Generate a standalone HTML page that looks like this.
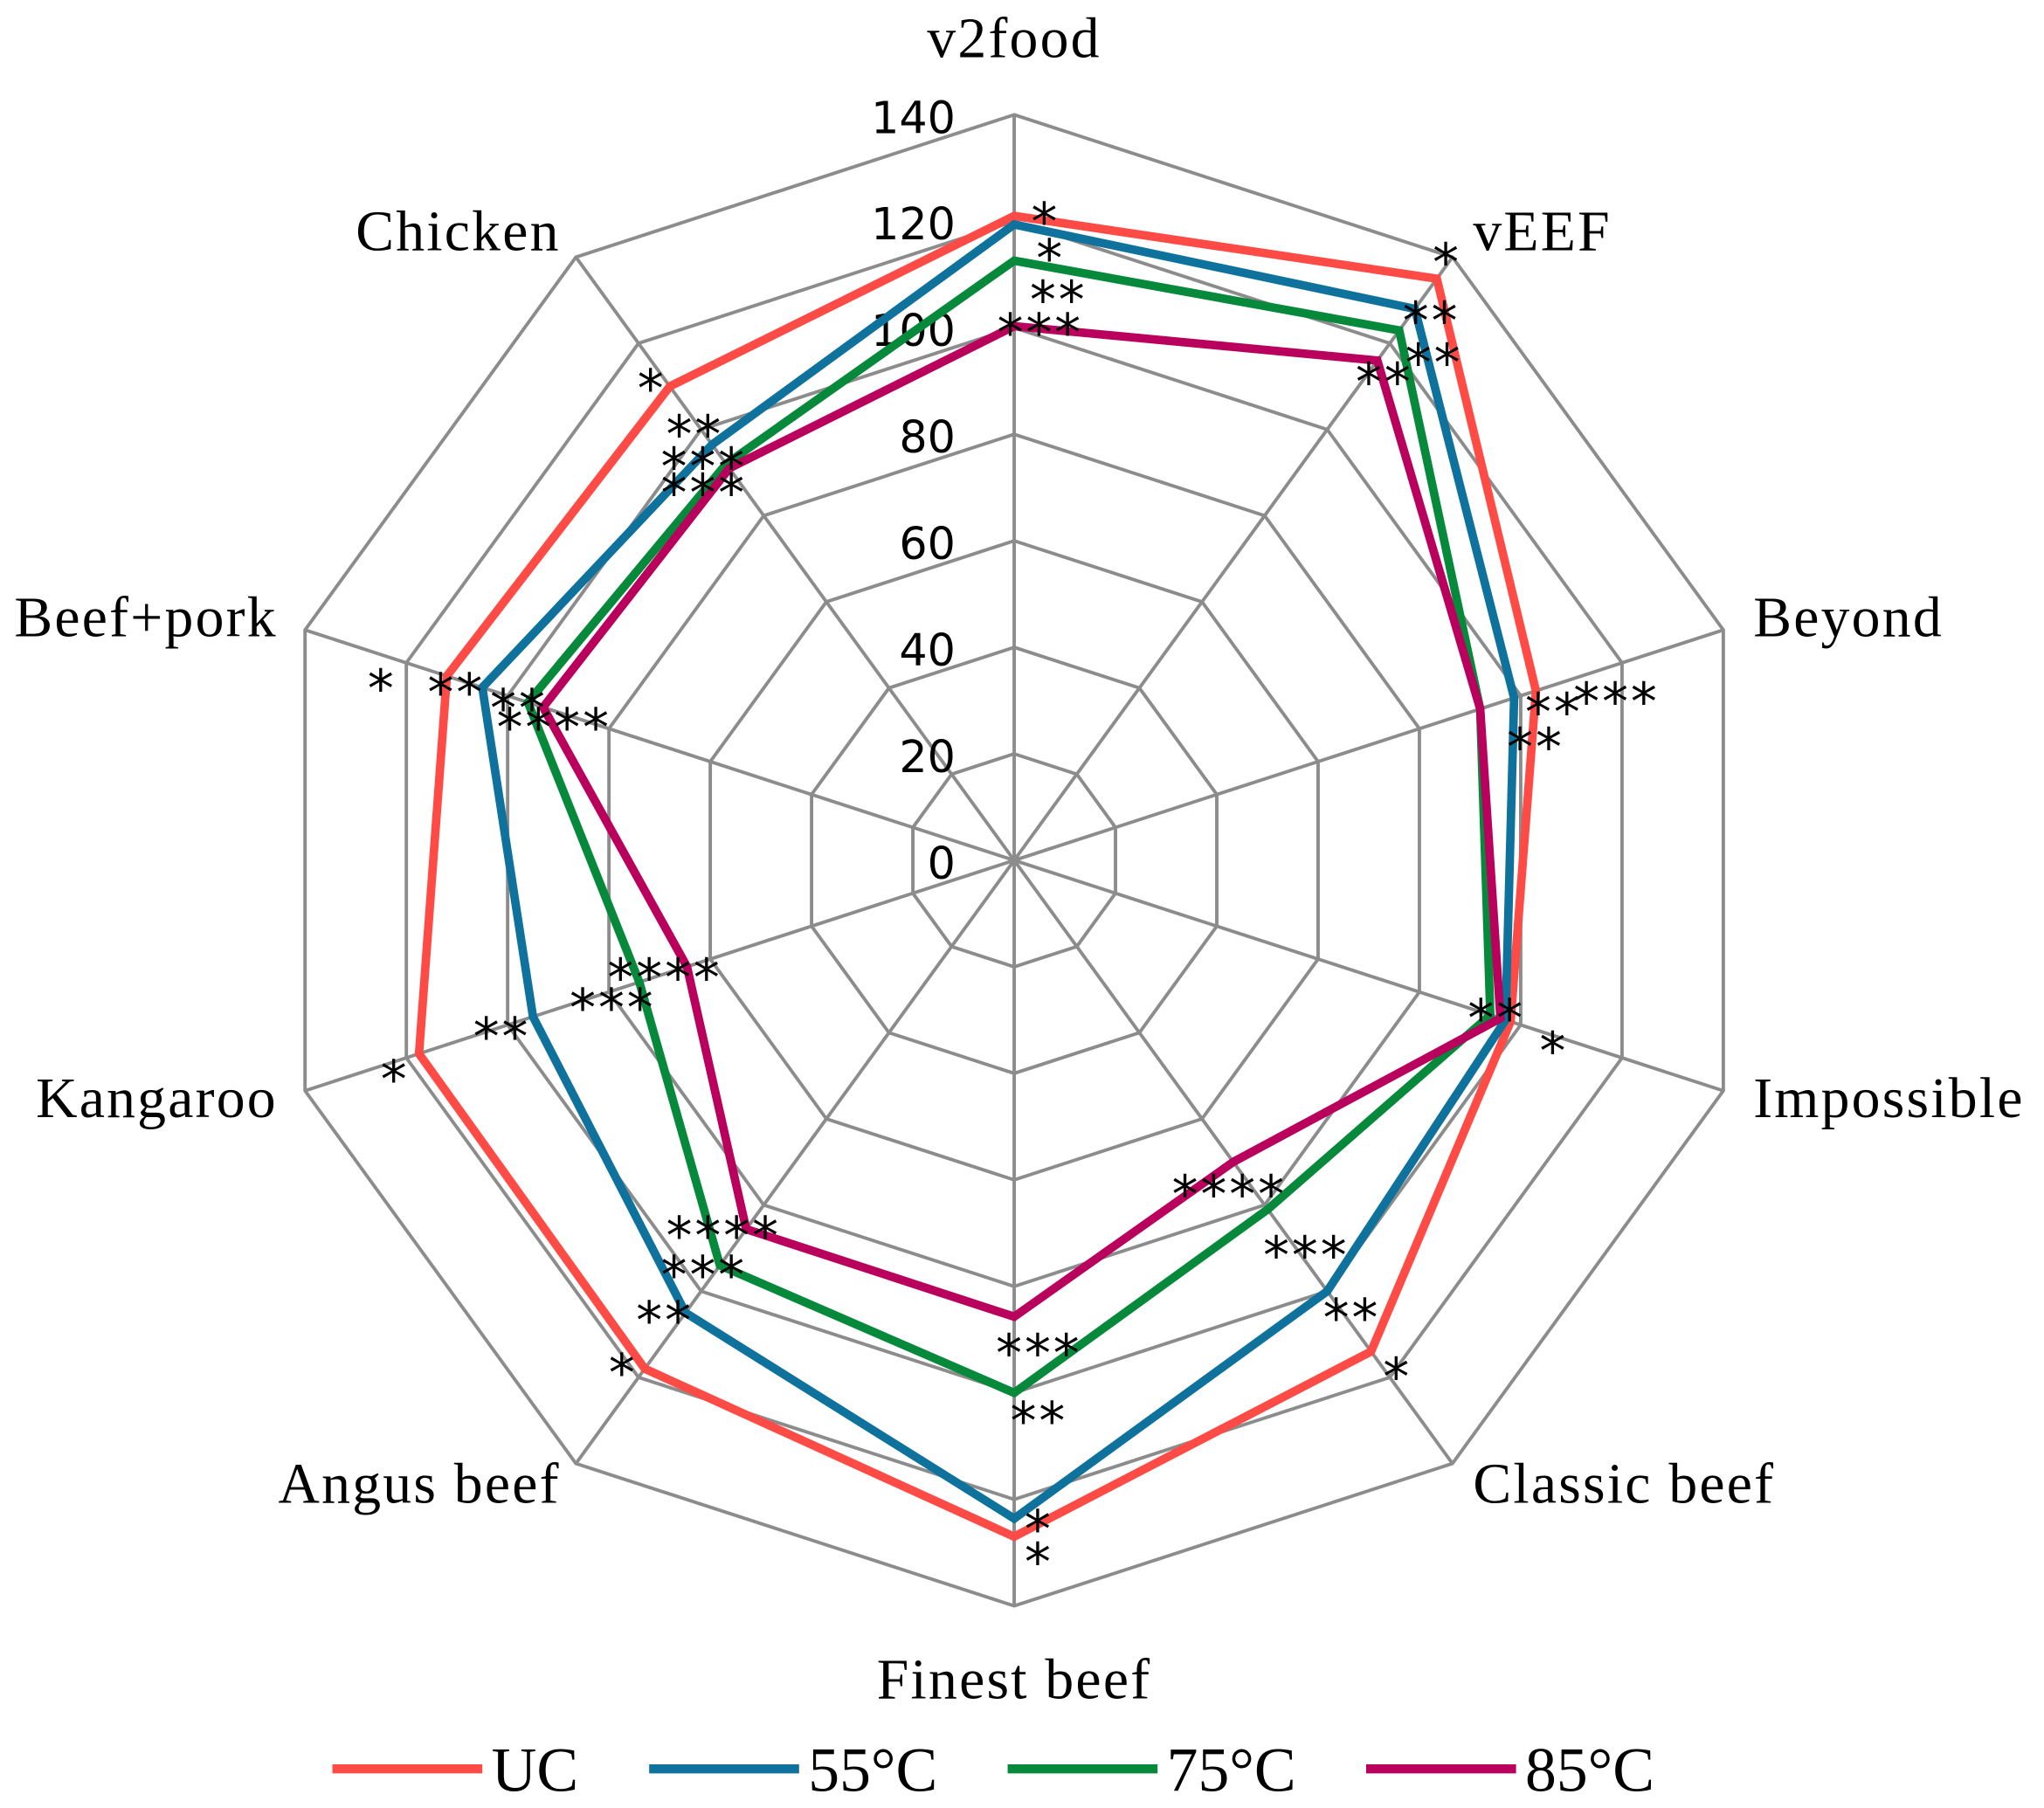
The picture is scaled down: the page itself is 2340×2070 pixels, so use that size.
<!DOCTYPE html>
<html><head><meta charset="utf-8"><style>
html,body{margin:0;padding:0;background:#fff;}
svg{display:block;}
</style></head><body>
<svg id="chart" width="2340" height="2070" viewBox="0 0 1568 1387" xmlns="http://www.w3.org/2000/svg">
<g id="grid"></g>
<g id="ticks"></g>
<g id="cats"></g>
<g id="series"></g>
<g id="stars"></g>
<g id="legend"></g>
</svg>
<script>
const categories=["v2food","vEEF","Beyond","Impossible","Classic beef","Finest beef","Angus beef","Kangaroo","Beef+pork","Chicken"];
const seriesNames=["UC","55°C","75°C","85°C"];
const seriesColors=["#FF4B45","#0E729C","#07893B","#B8005C"];
const valsUC=[121,135,103,98,114,127,118,117.5,112,110];
const vals55=[119.4,128,98.7,97,100,123.6,105,95,105,96.5];
const vals75=[112.6,123,92,94,81,100,94,74,96,92];
const vals85=[100.3,116,92,96,70,85.7,85.6,64.6,93,91];
const tickValues=[0,20,40,60,80,100,120,140];
const seriesVals=[valsUC,vals55,vals75,vals85];
const NS="http://www.w3.org/2000/svg";
const cx=778,cy=660,R=572,maxV=140;
function rad(v){return v/maxV*R;}
function pt(i,v){const a=i*2*Math.PI/categories.length;return [cx+rad(v)*Math.sin(a),cy-rad(v)*Math.cos(a)];}
function mk(tag,attrs,parent){const e=document.createElementNS(NS,tag);for(const k in attrs)e.setAttribute(k,attrs[k]);parent.appendChild(e);return e;}
const grid=document.getElementById('grid');
tickValues.forEach(t=>{if(t===0)return;
 const p=mk('polygon',{points:categories.map((c,i)=>pt(i,t).join(',')).join(' '),fill:'none',stroke:'#8c8c8c','stroke-width':2.6},grid);
 
 });
categories.forEach((c,i)=>{const [x,y]=pt(i,maxV);
 const l=mk('line',{x1:cx,y1:cy,x2:x,y2:y,stroke:'#8c8c8c','stroke-width':2.6},grid);
 
 });
const ticks=document.getElementById('ticks');
tickValues.forEach(t=>{const y=cy-rad(t);
 const e=mk('text',{x:733,y:y+14,'text-anchor':'end','font-family':'"DejaVu Sans","Liberation Sans",sans-serif','font-size':34,fill:'#000'},ticks);
 e.textContent=t;
 
 });
const catPos=[[778,44,'middle'],[1130,192,'start'],[1345,488,'start'],[1345,857,'start'],[1130,1153,'start'],[778,1303,'middle'],[430,1153,'end'],[213,857,'end'],[213,488,'end'],[430,192,'end']];
const cats=document.getElementById('cats');
categories.forEach((c,i)=>{const p=catPos[i];
 const e=mk('text',{x:p[0],y:p[1],'text-anchor':p[2],'font-family':'"Liberation Serif",serif','font-size':44,'letter-spacing':1.5,fill:'#000'},cats);
 e.textContent=c;
 
 });
const sg=document.getElementById('series');
seriesVals.forEach((vals,s)=>{
 const p=mk('polygon',{points:vals.map((v,i)=>pt(i,v).join(',')).join(' '),fill:'none',stroke:seriesColors[s],'stroke-width':6.5,'stroke-linejoin':'miter'},sg);
 
 });
const starList=[[802,162,'*'],[806,190,'*'],[812,222,'**'],[798,247,'***'],
[1110,193,'*'],[1098,238,'**'],[1100,270,'**'],[1062,285,'**'],
[1192,538,'**'],[1240,530,'***'],[1178,565,'**'],
[1148,773,'**'],[1192,798,'*'],
[1072,1048,'*'],[1037,1003,'**'],[1002,955,'***'],[943,908,'****'],
[797,1165,'*'],[797,1190,'*'],[797,1082,'**'],[797,1030,'***'],
[478,1045,'*'],[510,1005,'**'],[540,970,'***'],[555,940,'****'],
[303,820,'*'],[385,787,'**'],[470,765,'***'],[510,742,'****'],
[293,520,'*'],[350,523,'**'],[398,535,'**'],[425,550,'****'],
[500,290,'*'],[533,325,'**'],[540,350,'***'],[540,370,'***']];
const stars=document.getElementById('stars');
starList.forEach(s=>{const e=mk('text',{x:s[0],y:s[1]+22,'text-anchor':'middle','font-family':'"DejaVu Sans",sans-serif','font-size':40,'letter-spacing':2,fill:'#000'},stars);
 e.textContent=s[2];
 
 });
const legend=document.getElementById('legend');
const legX=[255,498,773,1048];
seriesNames.forEach((n,s)=>{const x=legX[s];
 const l=mk('line',{x1:x,y1:1357,x2:x+115,y2:1357,stroke:seriesColors[s],'stroke-width':7},legend);
 
 
 const t=mk('text',{x:x+122,y:1374,'font-family':'"Liberation Serif",serif','font-size':48,fill:'#000'},legend);
 t.textContent=n;
 
 });
</script>
</body></html>
